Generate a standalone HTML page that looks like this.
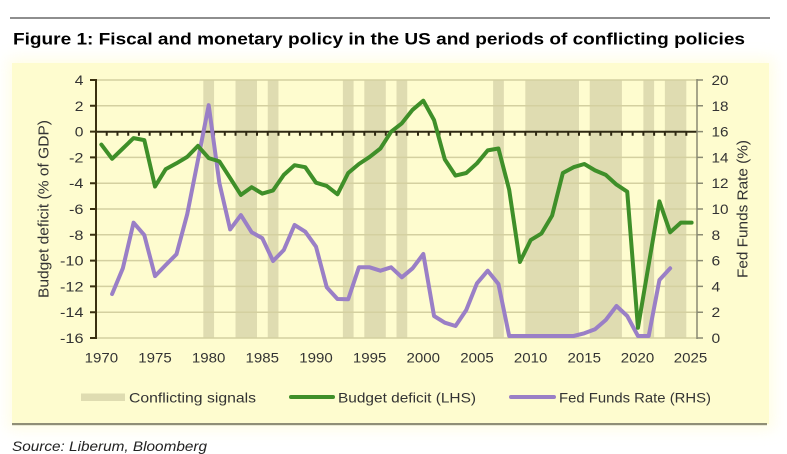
<!DOCTYPE html>
<html>
<head>
<meta charset="utf-8">
<style>
  html,body{margin:0;padding:0;background:#ffffff;}
  body{width:787px;height:454px;overflow:hidden;}
  svg{display:block;}
  text{font-family:"Liberation Sans", Arial, sans-serif;}
</style>
</head>
<body>
<svg width="787" height="454" viewBox="0 0 787 454" xmlns="http://www.w3.org/2000/svg">
  <defs>
    <filter id="glow" x="-10%" y="-20%" width="120%" height="140%">
      <feGaussianBlur stdDeviation="7"/>
    </filter>
  </defs>
  <rect x="0" y="0" width="787" height="454" fill="#ffffff"/>
  <!-- top rule -->
  <rect x="10" y="17" width="760" height="2" fill="#8e8e8e"/>
  <!-- title -->
  <text x="13" y="44.5" font-size="17" font-weight="bold" fill="#000" textLength="732" lengthAdjust="spacingAndGlyphs">Figure 1: Fiscal and monetary policy in the US and periods of conflicting policies</text>

  <!-- glow + panel -->
  <rect x="8" y="58" width="766" height="372" fill="#fffbd2" filter="url(#glow)" opacity="0.55"/>
  <rect x="12" y="63" width="757" height="361" fill="#fefccf"/>
  <rect x="12" y="423" width="755" height="2.2" fill="#8f8e76"/>

  <!-- bands -->
  <g fill="#dfdcb1">
    <rect x="203.33" y="80" width="10.73" height="258"/>
    <rect x="235.53" y="80" width="21.47" height="258"/>
    <rect x="267.73" y="80" width="10.73" height="258"/>
    <rect x="342.86" y="80" width="10.73" height="258"/>
    <rect x="364.33" y="80" width="21.47" height="258"/>
    <rect x="396.52" y="80" width="10.73" height="258"/>
    <rect x="493.12" y="80" width="10.73" height="258"/>
    <rect x="525.32" y="80" width="53.67" height="258"/>
    <rect x="589.72" y="80" width="32.20" height="258"/>
    <rect x="643.38" y="80" width="10.73" height="258"/>
    <rect x="664.85" y="80" width="21.47" height="258"/>
  </g>

  <!-- gridlines -->
  <g stroke="#d4d0a0" stroke-width="1.5">
    <line x1="96" y1="80" x2="697" y2="80"/>
    <line x1="96" y1="105.8" x2="697" y2="105.8"/>
    <line x1="96" y1="157.4" x2="697" y2="157.4"/>
    <line x1="96" y1="183.2" x2="697" y2="183.2"/>
    <line x1="96" y1="209" x2="697" y2="209"/>
    <line x1="96" y1="234.8" x2="697" y2="234.8"/>
    <line x1="96" y1="260.6" x2="697" y2="260.6"/>
    <line x1="96" y1="286.4" x2="697" y2="286.4"/>
    <line x1="96" y1="312.2" x2="697" y2="312.2"/>
    <line x1="96" y1="338" x2="697" y2="338"/>
  </g>

  <!-- zero line with ticks -->
  <line x1="96" y1="131.7" x2="697" y2="131.7" stroke="#2e2812" stroke-width="2"/>
  <path stroke="#2e2812" stroke-width="2" fill="none" d="M106.73 131.7v4M117.47 131.7v4M128.2 131.7v4M138.93 131.7v4M149.67 131.7v4M160.4 131.7v4M171.13 131.7v4M181.87 131.7v4M192.6 131.7v4M203.33 131.7v4M214.06 131.7v4M224.8 131.7v4M235.53 131.7v4M246.26 131.7v4M257 131.7v4M267.73 131.7v4M278.46 131.7v4M289.19 131.7v4M299.93 131.7v4M310.66 131.7v4M321.39 131.7v4M332.13 131.7v4M342.86 131.7v4M353.59 131.7v4M364.33 131.7v4M375.06 131.7v4M385.79 131.7v4M396.52 131.7v4M407.26 131.7v4M417.99 131.7v4M428.72 131.7v4M439.46 131.7v4M450.19 131.7v4M460.92 131.7v4M471.66 131.7v4M482.39 131.7v4M493.12 131.7v4M503.85 131.7v4M514.59 131.7v4M525.32 131.7v4M536.05 131.7v4M546.79 131.7v4M557.52 131.7v4M568.25 131.7v4M578.99 131.7v4M589.72 131.7v4M600.45 131.7v4M611.18 131.7v4M621.92 131.7v4M632.65 131.7v4M643.38 131.7v4M654.12 131.7v4M664.85 131.7v4M675.58 131.7v4M686.32 131.7v4"/>

  <!-- left axis -->
  <line x1="96" y1="79" x2="96" y2="339" stroke="#3a3010" stroke-width="2"/>
  <path stroke="#3a3010" stroke-width="2" d="M90 80h6M90 105.8h6M90 131.6h6M90 157.4h6M90 183.2h6M90 209h6M90 234.8h6M90 260.6h6M90 286.4h6M90 312.2h6M90 338h6"/>
  <!-- right axis -->
  <line x1="697" y1="79" x2="697" y2="339" stroke="#8a8a72" stroke-width="1.5"/>
  <path stroke="#8a8a72" stroke-width="1.5" d="M697 80h6M697 105.8h6M697 131.6h6M697 157.4h6M697 183.2h6M697 209h6M697 234.8h6M697 260.6h6M697 286.4h6M697 312.2h6M697 338h6"/>

  <!-- left tick labels -->
  <g font-size="14" fill="#333" text-anchor="end">
    <text x="83.5" y="85" textLength="8.7" lengthAdjust="spacingAndGlyphs">4</text>
    <text x="83.5" y="110.8" textLength="8.7" lengthAdjust="spacingAndGlyphs">2</text>
    <text x="83.5" y="136.6" textLength="8.7" lengthAdjust="spacingAndGlyphs">0</text>
    <text x="83.5" y="162.4" textLength="14.5" lengthAdjust="spacingAndGlyphs">-2</text>
    <text x="83.5" y="188.2" textLength="14.5" lengthAdjust="spacingAndGlyphs">-4</text>
    <text x="83.5" y="214" textLength="14.5" lengthAdjust="spacingAndGlyphs">-6</text>
    <text x="83.5" y="239.8" textLength="14.5" lengthAdjust="spacingAndGlyphs">-8</text>
    <text x="83.5" y="265.6" textLength="23.5" lengthAdjust="spacingAndGlyphs">-10</text>
    <text x="83.5" y="291.4" textLength="23.5" lengthAdjust="spacingAndGlyphs">-12</text>
    <text x="83.5" y="317.2" textLength="23.5" lengthAdjust="spacingAndGlyphs">-14</text>
    <text x="83.5" y="343" textLength="23.5" lengthAdjust="spacingAndGlyphs">-16</text>
  </g>
  <!-- right tick labels -->
  <g font-size="14" fill="#333">
    <text x="711.5" y="85" textLength="17" lengthAdjust="spacingAndGlyphs">20</text>
    <text x="711.5" y="110.8" textLength="17" lengthAdjust="spacingAndGlyphs">18</text>
    <text x="711.5" y="136.6" textLength="17" lengthAdjust="spacingAndGlyphs">16</text>
    <text x="711.5" y="162.4" textLength="17" lengthAdjust="spacingAndGlyphs">14</text>
    <text x="711.5" y="188.2" textLength="17" lengthAdjust="spacingAndGlyphs">12</text>
    <text x="711.5" y="214" textLength="17" lengthAdjust="spacingAndGlyphs">10</text>
    <text x="711.5" y="239.8" textLength="8.7" lengthAdjust="spacingAndGlyphs">8</text>
    <text x="711.5" y="265.6" textLength="8.7" lengthAdjust="spacingAndGlyphs">6</text>
    <text x="711.5" y="291.4" textLength="8.7" lengthAdjust="spacingAndGlyphs">4</text>
    <text x="711.5" y="317.2" textLength="8.7" lengthAdjust="spacingAndGlyphs">2</text>
    <text x="711.5" y="343" textLength="8.7" lengthAdjust="spacingAndGlyphs">0</text>
  </g>

  <!-- x labels -->
  <g font-size="14" fill="#333" text-anchor="middle">
    <text x="101.4" y="362.5" textLength="33.5" lengthAdjust="spacingAndGlyphs">1970</text>
    <text x="155.0" y="362.5" textLength="33.5" lengthAdjust="spacingAndGlyphs">1975</text>
    <text x="208.7" y="362.5" textLength="33.5" lengthAdjust="spacingAndGlyphs">1980</text>
    <text x="262.3" y="362.5" textLength="33.5" lengthAdjust="spacingAndGlyphs">1985</text>
    <text x="316.0" y="362.5" textLength="33.5" lengthAdjust="spacingAndGlyphs">1990</text>
    <text x="369.7" y="362.5" textLength="33.5" lengthAdjust="spacingAndGlyphs">1995</text>
    <text x="423.3" y="362.5" textLength="33.5" lengthAdjust="spacingAndGlyphs">2000</text>
    <text x="477.0" y="362.5" textLength="33.5" lengthAdjust="spacingAndGlyphs">2005</text>
    <text x="530.6" y="362.5" textLength="33.5" lengthAdjust="spacingAndGlyphs">2010</text>
    <text x="584.3" y="362.5" textLength="33.5" lengthAdjust="spacingAndGlyphs">2015</text>
    <text x="637.5" y="362.5" textLength="33.5" lengthAdjust="spacingAndGlyphs">2020</text>
    <text x="690.5" y="362.5" textLength="33.5" lengthAdjust="spacingAndGlyphs">2025</text>
  </g>

  <!-- axis titles -->
  <text transform="translate(48.5,209) rotate(-90)" text-anchor="middle" font-size="15" fill="#333" textLength="178" lengthAdjust="spacingAndGlyphs">Budget deficit (% of GDP)</text>
  <text transform="translate(747.5,209) rotate(-90)" text-anchor="middle" font-size="15" fill="#333" textLength="138" lengthAdjust="spacingAndGlyphs">Fed Funds Rate (%)</text>

  <!-- Fed funds (purple) -->
  <polyline fill="none" stroke="#9a7fc6" stroke-width="4" stroke-linejoin="round" stroke-linecap="round"
    points="112.10,294.0 122.83,268.3 133.57,222.7 144.30,235.1 155.03,276.1 165.76,265.0 176.49,254.2 187.22,214.2 197.96,160.0 208.69,105.2 219.42,183.2 230.15,229.4 240.88,215.1 251.62,232.2 262.35,238.3 273.08,261.0 283.81,250.0 294.54,225.0 305.27,231.7 316.01,246.7 326.74,287.3 337.47,299.0 348.20,299.3 358.93,267.3 369.66,267.3 380.40,270.7 391.13,267.3 401.86,277.3 412.59,268.3 423.32,254.0 434.05,316.0 444.79,322.7 455.52,326.0 466.25,310.0 476.98,283.3 487.71,270.7 498.44,284.0 509.18,336.0 519.91,336.0 530.64,336.0 541.37,336.0 552.10,336.0 562.84,336.0 573.57,336.0 584.30,333.3 595.03,329.3 605.76,320.0 616.49,306.0 627.23,316.0 637.96,336.0 648.69,336.0 659.42,280.0 670.15,268.3"/>

  <!-- Budget deficit (green) -->
  <polyline fill="none" stroke="#3f8f29" stroke-width="4" stroke-linejoin="round" stroke-linecap="round"
    points="101.37,144.6 112.10,158.8 122.83,148.5 133.57,138.1 144.30,140.1 155.03,186.5 165.76,169.1 176.49,163.3 187.22,156.9 197.96,145.9 208.69,158.1 219.42,161.4 230.15,178.1 240.88,194.9 251.62,187.2 262.35,193.6 273.08,190.4 283.81,174.9 294.54,165.2 305.27,167.2 316.01,182.7 326.74,185.9 337.47,194.3 348.20,173.0 358.93,164.0 369.66,156.9 380.40,148.5 391.13,131.7 401.86,123.3 412.59,109.8 423.32,100.7 434.05,120.1 444.79,159.4 455.52,175.6 466.25,173.0 476.98,163.3 487.71,150.4 498.44,148.5 509.18,189.8 519.91,262.0 530.64,240.1 541.37,233.6 552.10,215.6 562.84,173.0 573.57,167.2 584.30,164.0 595.03,170.4 605.76,174.9 616.49,184.6 627.23,191.7 637.96,327.8 648.69,264.6 659.42,201.4 670.15,232.3 680.88,222.6 691.62,222.6"/>

  <!-- legend -->
  <rect x="81" y="393.5" width="44" height="7.5" fill="#dfdcb1"/>
  <text x="129" y="402.5" font-size="14" fill="#333" textLength="127" lengthAdjust="spacingAndGlyphs">Conflicting signals</text>
  <line x1="291" y1="397" x2="333" y2="397" stroke="#3f8f29" stroke-width="4" stroke-linecap="round"/>
  <text x="338" y="402.5" font-size="14" fill="#333" textLength="138" lengthAdjust="spacingAndGlyphs">Budget deficit (LHS)</text>
  <line x1="511" y1="397" x2="554" y2="397" stroke="#9a7fc6" stroke-width="4" stroke-linecap="round"/>
  <text x="559" y="402.5" font-size="14" fill="#333" textLength="152" lengthAdjust="spacingAndGlyphs">Fed Funds Rate (RHS)</text>

  <!-- source -->
  <text x="12" y="451" font-size="14" font-style="italic" fill="#222" textLength="195" lengthAdjust="spacingAndGlyphs">Source: Liberum, Bloomberg</text>
</svg>
</body>
</html>
